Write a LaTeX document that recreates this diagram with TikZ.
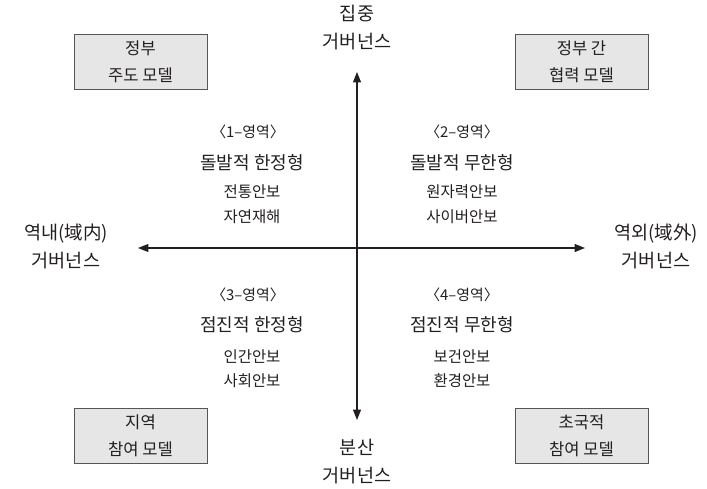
\documentclass[tikz,border=0pt]{standalone}
\usepackage{fontspec}
\setmainfont{Noto Sans CJK KR}
\usetikzlibrary{arrows.meta,positioning}
\definecolor{ink}{HTML}{231F20}
\definecolor{boxfill}{HTML}{E6E6E6}
\definecolor{boxline}{HTML}{555555}
\tikzset{
	axis/.style={draw=ink, line width=0.8pt, {Triangle[length=2.6mm,width=2mm]}-{Triangle[length=2.6mm,width=2mm]}},
	axislabel/.style={text=ink, align=center, font=\fontsize{13.2}{19.9}\selectfont},
	modelbox/.style={draw=boxline, fill=boxfill, line width=0.6pt, text=ink, align=center, minimum width=3.325cm, minimum height=1.375cm, inner sep=0pt, font=\fontsize{11.8}{19.2}\selectfont},
	zone/.style={text=ink, inner sep=0pt, font=\fontsize{10.6}{12}\selectfont},
	zonetitle/.style={text=ink, inner sep=0pt, font=\fontsize{12.8}{15}\selectfont},
	zoneitems/.style={text=ink, align=center, inner sep=0pt, font=\fontsize{11}{17.4}\selectfont}
}
\begin{document}
\begin{tikzpicture}
		\useasboundingbox (0,0) rectangle (17.675,12.2);
		\coordinate (north) at (8.925,10.4);
		\coordinate (south) at (8.925,1.7);
		\coordinate (west) at (3.45,6.0);
		\coordinate (east) at (14.625,6.0);
		\draw[axis] (south) -- (north);
		\draw[axis] (west) -- (east);
		\node[axislabel] (central) at (8.925,11.5) {집중\\거버넌스};
		\node[axislabel] (spread) at (8.925,0.66) {분산\\거버넌스};
		\node[axislabel] (inner) at (1.65,6.04) {역내(域内)\\거버넌스};
		\node[axislabel] (outer) at (16.4,6.04) {역외(域外)\\거버넌스};
		\node[modelbox] (govlead) at (3.5125,10.6625) {정부\\주도 모델};
		\node[modelbox] (govcoop) at (14.5375,10.6625) {정부 간\\협력 모델};
		\node[modelbox] (local) at (3.5125,1.3125) {지역\\참여 모델};
		\node[modelbox] (trans) at (14.5375,1.3125) {초국적\\참여 모델};
		\node[zone] (zone1) at (6.2,8.9) {〈1–영역〉};
		\node[zonetitle] (type1) at (6.3,8.125) {돌발적 한정형};
		\node[zoneitems] (items1) at (6.3,7.09) {전통안보\\자연재해};
		\node[zone] (zone2) at (11.55,8.9) {〈2–영역〉};
		\node[zonetitle] (type2) at (11.55,8.125) {돌발적 무한형};
		\node[zoneitems] (items2) at (11.55,7.09) {원자력안보\\사이버안보};
		\node[zone] (zone3) at (6.2,4.825) {〈3–영역〉};
		\node[zonetitle] (type3) at (6.3,4.075) {점진적 한정형};
		\node[zoneitems] (items3) at (6.3,2.98) {인간안보\\사회안보};
		\node[zone] (zone4) at (11.55,4.825) {〈4–영역〉};
		\node[zonetitle] (type4) at (11.55,4.075) {점진적 무한형};
		\node[zoneitems] (items4) at (11.55,2.98) {보건안보\\환경안보};
	\end{tikzpicture}
\end{document}
